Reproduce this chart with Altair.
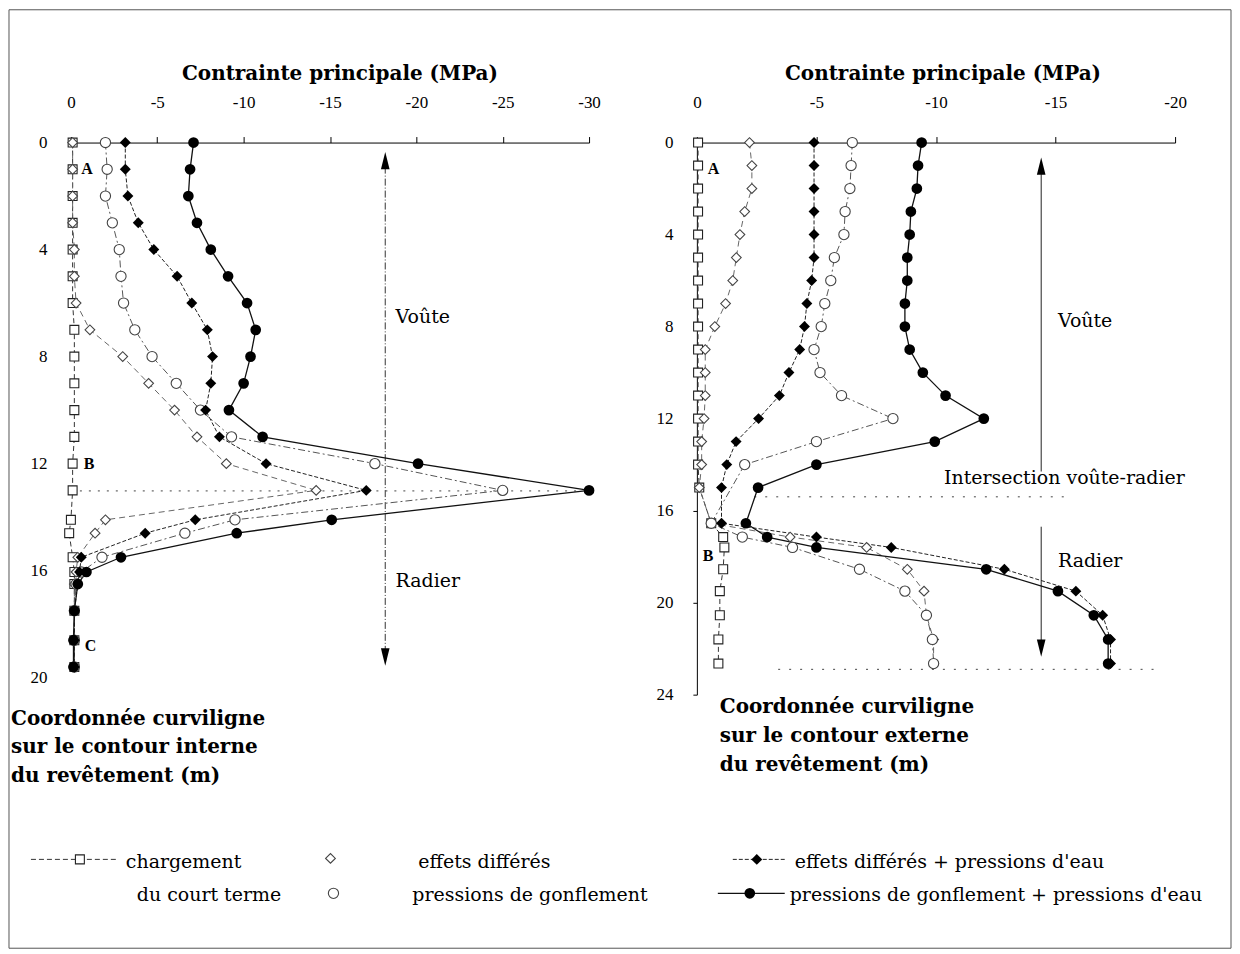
import altair as alt
import pandas as pd

SERIES = [
    "chargement du court terme",
    "effets différés",
    "pressions de gonflement",
    "effets différés + pressions d'eau",
    "pressions de gonflement + pressions d'eau",
]

# ---------------- left panel : contour interne ----------------
L_S = [0, 1, 2, 3, 4, 5, 6, 7, 8, 9, 10, 11, 12, 13, 14.1, 14.6, 15.5, 16.05, 16.5, 17.5, 18.6, 19.6]
L_CT = [-0.1, -0.1, -0.1, -0.1, -0.1, -0.1, -0.1, -0.2, -0.2, -0.2, -0.2, -0.2, -0.1, -0.1, 0.0, 0.1, -0.1, -0.2, -0.2, -0.2, -0.2, -0.2]
L_ED = [-0.1, -0.1, -0.1, -0.1, -0.2, -0.2, -0.3, -1.1, -3.0, -4.5, -6.0, -7.3, -9.0, -14.2, -2.0, -1.4, -0.4, -0.3, -0.2, -0.2, -0.2, -0.2]
L_PG = [-2.0, -2.1, -2.0, -2.4, -2.8, -2.9, -3.05, -3.7, -4.7, -6.1, -7.5, -9.3, -17.6, -25.0, -9.5, -6.6, -1.8, -0.6, -0.3, -0.2, -0.2, -0.2]
L_EDW = [-3.15, -3.15, -3.3, -3.9, -4.8, -6.15, -7.0, -7.9, -8.2, -8.1, -7.8, -8.6, -11.3, -17.1, -7.2, -4.3, -0.6, -0.5, -0.4, -0.2, -0.2, -0.2]
L_PGW = [-7.1, -6.9, -6.8, -7.3, -8.1, -9.1, -10.2, -10.7, -10.4, -10.0, -9.15, -11.1, -20.1, -30.0, -15.1, -9.6, -2.9, -0.9, -0.4, -0.2, -0.15, -0.15]

# ---------------- right panel : contour externe ----------------
R_S = [0, 1, 2, 3, 4, 5, 6, 7, 8, 9, 10, 11, 12, 13, 14, 15, 16.55, 17.15, 17.6, 18.55, 19.5, 20.55, 21.6, 22.65]
R_CT = [-0.05, -0.05, -0.05, -0.05, -0.05, -0.05, -0.05, -0.05, -0.05, -0.05, -0.05, -0.05, -0.05, -0.05, -0.05, -0.1, -0.6, -1.1, -1.15, -1.1, -0.96, -0.96, -0.9, -0.9]
R_ED = [-2.2, -2.3, -2.3, -2.0, -1.8, -1.65, -1.5, -1.2, -0.75, -0.35, -0.35, -0.35, -0.3, -0.2, -0.2, -0.1, -0.6, -3.9, -7.1, -8.8, -9.5, -9.6, -9.9, -9.9]
R_PG = [-6.5, -6.45, -6.4, -6.2, -6.15, -5.75, -5.6, -5.35, -5.2, -4.9, -5.15, -6.05, -8.2, -5.0, -2.0, None, -0.6, -1.9, -4.0, -6.8, -8.7, -9.6, -9.85, -9.9]
R_EDW = [-4.9, -4.9, -4.9, -4.9, -4.9, -4.9, -4.8, -4.6, -4.5, -4.3, -3.85, -3.45, -2.58, -1.64, -1.25, -1.03, -1.03, -5.0, -8.13, -12.86, -15.85, -16.97, -17.3, -17.3]
R_PGW = [-9.4, -9.25, -9.2, -8.95, -8.9, -8.8, -8.8, -8.7, -8.7, -8.9, -9.45, -10.4, -12.0, -9.95, -5.0, -2.56, -2.05, -2.94, -5.0, -12.1, -15.1, -16.6, -17.2, -17.2]

# tick values
L_XTICKS = [0, -5, -10, -15, -20, -25, -30]
L_YTICKS = [0, 4, 8, 12, 16, 20]
R_XTICKS = [0, -5, -10, -15, -20]
R_YTICKS = [0, 4, 8, 12, 16, 20, 24]

XTITLE = "Contrainte principale (MPa)"
L_YTITLE = ["Coordonnée curviligne", "sur le contour interne", "du revêtement (m)"]
R_YTITLE = ["Coordonnée curviligne", "sur le contour externe", "du revêtement (m)"]

SERIF = "Liberation Serif"
WIDE = "DejaVu Serif"


def long_table(S, cols):
    recs = []
    for name, vals in zip(SERIES, cols):
        for i, (s, v) in enumerate(zip(S, vals)):
            if v is None:
                continue
            recs.append({"serie": name, "s": s, "v": v, "i": i})
    return pd.DataFrame(recs)


left_df = long_table(L_S, [L_CT, L_ED, L_PG, L_EDW, L_PGW])
right_df = long_table(R_S, [R_CT, R_ED, R_PG, R_EDW, R_PGW])

STYLE = [
    dict(dash=[5, 3], lc="#333333", lw=1.0, shape="square", filled=False, size=80, sc="#222222"),
    dict(dash=[6, 4], lc="#666666", lw=1.0, shape="diamond", filled=False, size=95, sc="#444444"),
    dict(dash=[7, 3, 2, 3], lc="#555555", lw=1.0, shape="circle", filled=False, size=105, sc="#444444"),
    dict(dash=[4, 2], lc="#222222", lw=1.0, shape="diamond", filled=True, size=120, sc="black"),
    dict(dash=None, lc="#111111", lw=1.3, shape="circle", filled=True, size=115, sc="black"),
]

UP = "M0,0L0.25,1L-0.25,1Z"
DOWN = "M0,0L0.25,-1L-0.25,-1Z"

# annotation geometry (data coordinates)
L_RULES = pd.DataFrame({"x": [0, -18.2], "x2": [-29.6, -18.2], "y": [13.02, 0.9], "y2": [13.02, 19.0], "k": ["h", "v"]})
L_HEADS = pd.DataFrame({"x": [-18.2, -18.2], "y": [0.35, 19.55], "d": ["up", "down"]})
L_TEXT = pd.DataFrame({"x": [-18.8, -18.8], "y": [6.53, 16.4], "t": ["Voûte", "Radier"]})
L_PTS = pd.DataFrame({"x": [-0.6, -0.75, -0.8], "y": [1.0, 12.0, 18.8], "t": ["A", "B", "C"]})

R_HRULES = pd.DataFrame({"x": [-2.4, -3.4], "x2": [-15.5, -19.1], "y": [15.4, 22.9]})
R_VRULES = pd.DataFrame({"x": [-14.4, -14.4], "y": [0.9, 16.7], "y2": [14.3, 22.0]})
R_HEADS = pd.DataFrame({"x": [-14.4, -14.4], "y": [0.65, 22.35], "d": ["up", "down"]})
R_TEXT = pd.DataFrame({"x": [-15.1, -15.1], "y": [7.77, 18.2], "t": ["Voûte", "Radier"]})
R_INTER = pd.DataFrame({"x": [-15.37], "y": [14.6], "t": ["Intersection voûte-radier"]})
R_PTS = pd.DataFrame({"x": [-0.46, -0.25], "y": [1.17, 17.96], "t": ["A", "B"]})

ONE = pd.DataFrame({"a": [0]})


def make_axes(xdom, ydom, xticks, yticks, title_x, yline):
    xs = alt.Scale(domain=xdom, reverse=True, nice=False, zero=False)
    ys = alt.Scale(domain=ydom, reverse=True, nice=False, zero=False)
    xax = alt.Axis(
        orient="top", values=xticks,
        labelExpr="datum.value == 0 ? '0' : '-' + abs(datum.value)",
        title=XTITLE, titleFont=WIDE, titleFontWeight="bold", titleFontSize=20,
        titleColor="black", titleX=title_x, titleY=-63, titleAlign="center",
        titleBaseline="alphabetic",
        labelFont=SERIF, labelFontSize=17, labelColor="black", labelPadding=25,
        labelFlush=False, labelOverlap=False, tickSize=6, tickColor="black",
        domainColor="black", grid=False,
    )
    if yline:
        yax = alt.Axis(values=yticks, domain=True, domainColor="black", ticks=True,
                       tickSize=4, tickColor="black", labelPadding=20, labelFont=SERIF,
                       labelFontSize=17, labelColor="black", grid=False, title=None,
                       labelFlush=False)
    else:
        yax = alt.Axis(values=yticks, domain=False, ticks=False, labelPadding=24,
                       labelFont=SERIF, labelFontSize=17, labelColor="black",
                       grid=False, title=None, labelFlush=False)

    def X(f):
        return alt.X(f"{f}:Q", scale=xs, axis=xax)

    def Y(f):
        return alt.Y(f"{f}:Q", scale=ys, axis=yax)

    def X2(f):
        return alt.X2(f"{f}:Q")

    def Y2(f):
        return alt.Y2(f"{f}:Q")

    return X, Y, X2, Y2


def point_kwargs(st):
    if st["filled"]:
        return dict(shape=st["shape"], filled=True, color=st["sc"], size=st["size"], opacity=1)
    return dict(shape=st["shape"], filled=True, fill="white", stroke=st["sc"],
                strokeWidth=1.1, size=st["size"], opacity=1)


def series_layers(df, X, Y):
    lines, points = [], []
    for name, st in zip(SERIES, STYLE):
        d = df[df.serie == name]
        lk = dict(color=st["lc"], strokeWidth=st["lw"])
        if st["dash"]:
            lk["strokeDash"] = st["dash"]
        lines.append(alt.Chart(d).mark_line(**lk).encode(x=X("v"), y=Y("s"), order="i:Q"))
        points.append(alt.Chart(d).mark_point(**point_kwargs(st)).encode(x=X("v"), y=Y("s")))
    return lines + points


def heads_layer(df, X, Y):
    out = []
    for d, path in (("up", UP), ("down", DOWN)):
        out.append(alt.Chart(df[df.d == d]).mark_point(shape=path, filled=True, color="black",
                                                       size=1200, opacity=1)
                   .encode(x=X("x"), y=Y("y")))
    return out


# ---------------- left panel ----------------
LX, LY, LX2, LY2 = make_axes([-30, 0], [0, 20], L_XTICKS, L_YTICKS, 269, False)

left_layers = []
left_layers.append(alt.Chart(ONE).mark_rect(fillOpacity=0, stroke="#555555", strokeWidth=1, clip=False)
                   .encode(x=alt.value(-62), x2=alt.value(1162), y=alt.value(-133), y2=alt.value(807)))
left_layers.append(alt.Chart(L_RULES[L_RULES.k == "h"]).mark_rule(color="#444444", strokeWidth=1, strokeDash=[2, 7])
                   .encode(x=LX("x"), x2=LX2("x2"), y=LY("y")))
left_layers.append(alt.Chart(L_RULES[L_RULES.k == "v"]).mark_rule(color="#333333", strokeWidth=1, strokeDash=[7, 2, 1, 2])
                   .encode(x=LX("x"), y=LY("y"), y2=LY2("y2")))
left_layers += series_layers(left_df, LX, LY)
left_layers += heads_layer(L_HEADS, LX, LY)
left_layers.append(alt.Chart(L_TEXT).mark_text(align="left", baseline="middle", font=WIDE, fontSize=19, color="black")
                   .encode(x=LX("x"), y=LY("y"), text="t:N"))
left_layers.append(alt.Chart(L_PTS).mark_text(align="left", baseline="middle", font=SERIF, fontSize=16,
                                              fontWeight="bold", color="black")
                   .encode(x=LX("x"), y=LY("y"), text="t:N"))
for k, line in enumerate(L_YTITLE):
    left_layers.append(alt.Chart(ONE).mark_text(align="left", baseline="middle", font=WIDE, fontSize=20,
                                                fontWeight="bold", color="black")
                       .encode(x=alt.value(-60), y=alt.value(577 + 28.5 * k), text=alt.value(line)))

# ---- legend (drawn as a decoration under both panels) ----
LEG_TEXT = [
    ("chargement", 55, 721), ("du court terme", 66, 754),
    ("effets différés", 348, 721), ("pressions de gonflement", 342, 754),
    ("effets différés + pressions d'eau", 725, 721),
    ("pressions de gonflement + pressions d'eau", 720, 754),
]
LEG_LINES = [(-40, 48, 718, 0), (663, 715, 718, 3), (648, 715, 752, 4)]
LEG_SYMS = [(9, 718, 0), (260, 717, 1), (263, 752, 2), (687, 718, 3), (680, 752, 4)]
for t, x, y in LEG_TEXT:
    left_layers.append(alt.Chart(ONE).mark_text(align="left", baseline="middle", font=WIDE, fontSize=19, color="black")
                       .encode(x=alt.value(x), y=alt.value(y), text=alt.value(t)))
for x1, x2, y, si in LEG_LINES:
    st = STYLE[si]
    lk = dict(color=st["lc"], strokeWidth=st["lw"])
    if st["dash"]:
        lk["strokeDash"] = st["dash"]
    left_layers.append(alt.Chart(ONE).mark_rule(**lk).encode(x=alt.value(x1), x2=alt.value(x2), y=alt.value(y)))
for x, y, si in LEG_SYMS:
    left_layers.append(alt.Chart(ONE).mark_point(**point_kwargs(STYLE[si])).encode(x=alt.value(x), y=alt.value(y)))

left = alt.layer(*left_layers).properties(width=519, height=536)

# ---------------- right panel ----------------
RX, RY, RX2, RY2 = make_axes([-20, 0], [0, 24], R_XTICKS, R_YTICKS, 246, True)

right_layers = []
right_layers.append(alt.Chart(R_HRULES).mark_rule(color="#444444", strokeWidth=1, strokeDash=[2, 9])
                    .encode(x=RX("x"), x2=RX2("x2"), y=RY("y")))
right_layers.append(alt.Chart(R_VRULES).mark_rule(color="#222222", strokeWidth=1)
                    .encode(x=RX("x"), y=RY("y"), y2=RY2("y2")))
right_layers += series_layers(right_df, RX, RY)
right_layers += heads_layer(R_HEADS, RX, RY)
right_layers.append(alt.Chart(R_TEXT).mark_text(align="left", baseline="middle", font=WIDE, fontSize=19, color="black")
                    .encode(x=RX("x"), y=RY("y"), text="t:N"))
right_layers.append(alt.Chart(R_INTER).mark_text(align="center", baseline="middle", font=WIDE, fontSize=19, color="black")
                    .encode(x=RX("x"), y=RY("y"), text="t:N"))
right_layers.append(alt.Chart(R_PTS).mark_text(align="left", baseline="middle", font=SERIF, fontSize=16,
                                               fontWeight="bold", color="black")
                    .encode(x=RX("x"), y=RY("y"), text="t:N"))
for k, line in enumerate(R_YTITLE):
    right_layers.append(alt.Chart(ONE).mark_text(align="left", baseline="middle", font=WIDE, fontSize=20,
                                                 fontWeight="bold", color="black")
                        .encode(x=alt.value(23), y=alt.value(565 + 29 * k), text=alt.value(line)))

right = alt.layer(*right_layers).properties(width=479, height=553)

chart = alt.hconcat(left, right, spacing=108, bounds="flush", padding=0).configure_view(strokeWidth=0)

chart.save("out.html", embed_options={"renderer": "svg", "actions": False})
